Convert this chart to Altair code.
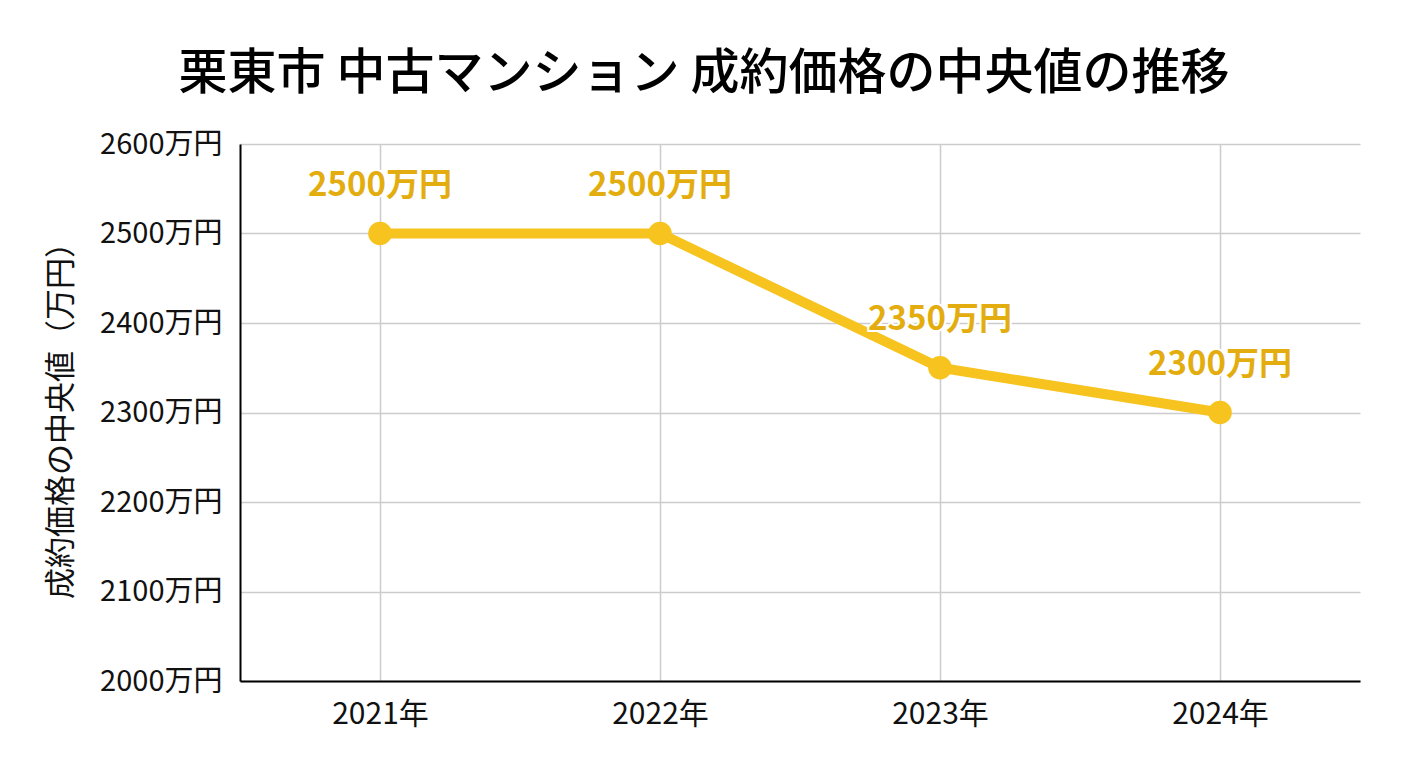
import altair as alt
import pandas as pd

years = ["2021年", "2022年", "2023年", "2024年"]
prices = [2500, 2500, 2350, 2300]
labels = ["2500万円", "2500万円", "2350万円", "2300万円"]

df = pd.DataFrame({"year": years, "price": prices, "label": labels})

FONT = "Noto Sans CJK JP"
LINE = "#F7C31E"
LABEL = "#E3AD0F"

x = alt.X(
    "year:N",
    sort=years,
    scale=alt.Scale(type="point", padding=0.5),
    axis=alt.Axis(
        title=None, labelAngle=0, ticks=False, labelPadding=18,
        labelFontSize=30, labelColor="#111", domainColor="#000", domainWidth=2,
        grid=True, gridColor="#cccccc", gridWidth=1.5,
    ),
)
y = alt.Y(
    "price:Q",
    scale=alt.Scale(domain=[2000, 2600]),
    axis=alt.Axis(
        title="成約価格の中央値（万円）", titleFontSize=31, titleFontWeight="normal",
        titleColor="#111", titlePadding=22,
        values=[2000, 2100, 2200, 2300, 2400, 2500, 2600],
        labelExpr="datum.value + '万円'", ticks=False, labelPadding=18,
        labelFontSize=29, labelColor="#111", domainColor="#000", domainWidth=2,
        gridColor="#cccccc", gridWidth=1.5,
    ),
)

base = alt.Chart(df).encode(x=x, y=y)

line = base.mark_line(color=LINE, strokeWidth=10)
points = base.mark_circle(color=LINE, size=560, opacity=1)
text = base.mark_text(
    color=LABEL, fontSize=33, fontWeight="bold", dy=-48,
    stroke="white", strokeWidth=4, strokeOpacity=1,
).encode(text="label:N")
text_fill = base.mark_text(
    color=LABEL, fontSize=33, fontWeight="bold", dy=-48,
).encode(text="label:N")

chart = (
    alt.layer(line, points, text, text_fill)
    .properties(
        width=1120,
        height=537,
        autosize=alt.AutoSizeParams(type="none"),
        padding={"left": 232, "top": 136, "right": 40, "bottom": 80},
        title=alt.TitleParams(
            "栗東市 中古マンション 成約価格の中央値の推移",
            fontSize=49, fontWeight=500, color="#000", anchor="middle",
            dx=-96, offset=31,
        ),
    )
    .configure(font=FONT)
    .configure_view(stroke=None)
)

chart.save("out.html", embed_options={"renderer": "svg", "actions": False})
